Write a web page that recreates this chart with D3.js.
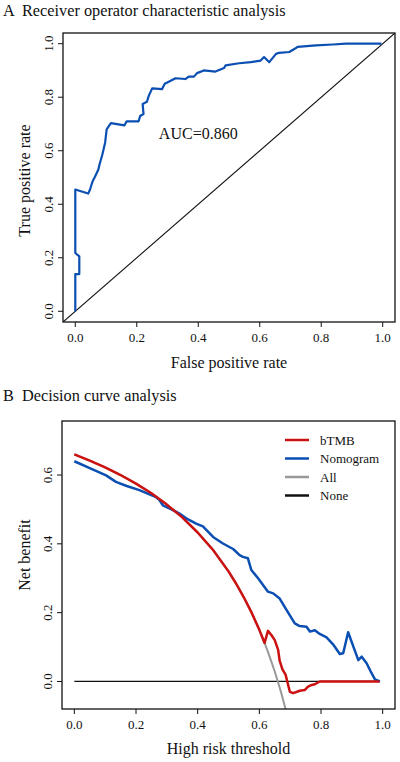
<!DOCTYPE html>
<html>
<head>
<meta charset="utf-8">
<script src="https://cdn.jsdelivr.net/npm/d3@7"></script>
<style>
  html, body { margin: 0; padding: 0; background: #fff; }
  svg { display: block; }
  text { font-family: "Liberation Serif", "Times New Roman", serif; fill: #111; }
</style>
</head>
<body>
<svg id="chart" width="400" height="762"></svg>
<script>
// ---------------- DATA ----------------
const xTicks = [0, 0.2, 0.4, 0.6, 0.8, 1.0];
const rocYTicks = [0, 0.2, 0.4, 0.6, 0.8, 1.0];
const dcaYTicks = [0, 0.2, 0.4, 0.6];

// ROC curve (false positive rate, true positive rate)
const rocFpr = [0, 0, 0.013, 0.013, 0, 0, 0.042, 0.048, 0.053, 0.058, 0.064, 0.075, 0.078, 0.088, 0.097, 0.102, 0.108, 0.116, 0.16, 0.167, 0.206, 0.211, 0.222, 0.219, 0.233, 0.239, 0.25, 0.282, 0.291, 0.304, 0.326, 0.358, 0.369, 0.386, 0.396, 0.418, 0.456, 0.484, 0.489, 0.533, 0.571, 0.603, 0.614, 0.631, 0.653, 0.663, 0.696, 0.718, 0.723, 0.783, 0.838, 0.881, 0.908, 0.996];
const rocTpr = [0, 0.139, 0.139, 0.205, 0.218, 0.455, 0.44, 0.455, 0.474, 0.49, 0.503, 0.53, 0.545, 0.586, 0.63, 0.68, 0.69, 0.703, 0.695, 0.71, 0.71, 0.73, 0.737, 0.775, 0.783, 0.805, 0.833, 0.83, 0.85, 0.858, 0.871, 0.868, 0.877, 0.877, 0.89, 0.9, 0.896, 0.909, 0.919, 0.927, 0.931, 0.937, 0.95, 0.931, 0.962, 0.966, 0.969, 0.984, 0.988, 0.994, 0.997, 1.0, 1.0, 1.0];
const aucLabel = "AUC=0.860";

// Decision curve: bTMB
const btmbX = [0, 0.05, 0.1, 0.15, 0.2, 0.25, 0.3, 0.35, 0.4, 0.45, 0.5, 0.525, 0.55, 0.575, 0.6, 0.617, 0.628, 0.639, 0.65, 0.661, 0.666, 0.675, 0.685, 0.699, 0.71, 0.731, 0.747, 0.758, 0.77, 0.78, 0.796, 0.99];
const btmbY = [0.66, 0.642, 0.622, 0.6, 0.575, 0.547, 0.514, 0.477, 0.433, 0.382, 0.32, 0.284, 0.244, 0.2, 0.15, 0.112, 0.147, 0.135, 0.12, 0.092, 0.06, 0.035, 0.02, -0.03, -0.034, -0.027, -0.025, -0.015, -0.01, -0.008, 0, 0];
// Decision curve: Nomogram
const nomoX = [0, 0.05, 0.103, 0.135, 0.17, 0.211, 0.265, 0.276, 0.287, 0.32, 0.341, 0.363, 0.395, 0.417, 0.45, 0.482, 0.515, 0.536, 0.547, 0.563, 0.574, 0.596, 0.628, 0.645, 0.666, 0.688, 0.715, 0.731, 0.753, 0.764, 0.78, 0.796, 0.818, 0.839, 0.861, 0.872, 0.888, 0.921, 0.932, 0.948, 0.964, 0.975, 0.991];
const nomoY = [0.64, 0.62, 0.599, 0.58, 0.568, 0.556, 0.536, 0.527, 0.512, 0.498, 0.488, 0.474, 0.459, 0.451, 0.42, 0.401, 0.385, 0.367, 0.362, 0.358, 0.324, 0.3, 0.261, 0.256, 0.241, 0.208, 0.169, 0.161, 0.159, 0.145, 0.149, 0.138, 0.128, 0.108, 0.08, 0.082, 0.143, 0.062, 0.072, 0.053, 0.024, 0.006, 0];
// Decision curve: treat All
const allX = [0, 0.05, 0.1, 0.15, 0.2, 0.25, 0.3, 0.35, 0.4, 0.45, 0.5, 0.525, 0.55, 0.575, 0.6, 0.617, 0.63, 0.65, 0.67, 0.69];
const allY = [0.66, 0.642, 0.622, 0.6, 0.575, 0.547, 0.514, 0.477, 0.433, 0.382, 0.32, 0.284, 0.244, 0.2, 0.15, 0.112, 0.081, 0.029, -0.03, -0.097];
// Decision curve: treat None
const noneX = [0, 0.99];
const noneY = [0, 0];

const legendNames = ["bTMB", "Nomogram", "All", "None"];
const legendColors = ["#cc1111", "#0b4fb3", "#999999", "#111111"];

// ---------------- DRAW ----------------
const svg = d3.select("#chart");
const FONT_TICK = 13;
const FONT_TITLE = 16.3;
const FONT_AXIS = 16;

function drawAxes(g, x, y, yticks, box) {
  g.append("rect").attr("x", box.l).attr("y", box.t)
    .attr("width", box.r - box.l).attr("height", box.b - box.t)
    .attr("fill", "none").attr("stroke", "#111").attr("stroke-width", 1.3);
  const xa = g.append("g");
  xTicks.forEach(v => {
    xa.append("line").attr("x1", x(v)).attr("x2", x(v)).attr("y1", box.b).attr("y2", box.b + 5)
      .attr("stroke", "#111").attr("stroke-width", 1);
    xa.append("text").attr("x", x(v)).attr("y", box.b + 20).attr("text-anchor", "middle")
      .attr("font-size", FONT_TICK).text(d3.format(".1f")(v));
  });
  const ya = g.append("g");
  yticks.forEach(v => {
    ya.append("line").attr("x1", box.l - 5).attr("x2", box.l).attr("y1", y(v)).attr("y2", y(v))
      .attr("stroke", "#111").attr("stroke-width", 1);
    ya.append("text").attr("transform", `translate(${box.l - 10},${y(v)}) rotate(-90)`)
      .attr("text-anchor", "middle").attr("font-size", FONT_TICK).text(d3.format(".1f")(v));
  });
}

// ---- Panel A ----
const boxA = { l: 63, r: 395, t: 33, b: 322 };
const xA = d3.scaleLinear().domain([-0.04, 1.04]).range([boxA.l, boxA.r]);
const yA = d3.scaleLinear().domain([-0.04, 1.04]).range([boxA.b, boxA.t]);

svg.append("text").attr("x", 3).attr("y", 16).attr("font-size", FONT_TITLE)
  .attr("xml:space", "preserve").text("A  Receiver operator characteristic analysis");

const gA = svg.append("g");
svg.append("clipPath").attr("id", "clipA").append("rect")
  .attr("x", boxA.l).attr("y", boxA.t).attr("width", boxA.r - boxA.l).attr("height", boxA.b - boxA.t);

gA.append("line").attr("clip-path", "url(#clipA)")
  .attr("x1", xA(-0.04)).attr("y1", yA(-0.04)).attr("x2", xA(1.04)).attr("y2", yA(1.04))
  .attr("stroke", "#111").attr("stroke-width", 1.1);

const rocLine = d3.line().x((d, i) => xA(rocFpr[i])).y((d, i) => yA(rocTpr[i]));
gA.append("path").datum(rocFpr).attr("d", rocLine)
  .attr("fill", "none").attr("stroke", "#0b4fb3").attr("stroke-width", 2.2).attr("stroke-linejoin", "round");

gA.append("text").attr("x", xA(0.40)).attr("y", yA(0.645)).attr("text-anchor", "middle")
  .attr("font-size", 16).text(aucLabel);

drawAxes(gA, xA, yA, rocYTicks, boxA);

svg.append("text").attr("x", (boxA.l + boxA.r) / 2).attr("y", 368).attr("text-anchor", "middle")
  .attr("font-size", FONT_AXIS).text("False positive rate");
svg.append("text").attr("transform", `translate(30,${(boxA.t + boxA.b) / 2 + 3}) rotate(-90)`)
  .attr("text-anchor", "middle").attr("font-size", FONT_AXIS).text("True positive rate");

// ---- Panel B ----
const boxB = { l: 62, r: 395, t: 421, b: 709 };
const xB = d3.scaleLinear().domain([-0.04, 1.04]).range([boxB.l, boxB.r]);
const yB = d3.scaleLinear().domain([-0.08, 0.757]).range([boxB.b, boxB.t]);

svg.append("text").attr("x", 3).attr("y", 401).attr("font-size", FONT_TITLE)
  .attr("xml:space", "preserve").text("B  Decision curve analysis");

const gB = svg.append("g");
svg.append("clipPath").attr("id", "clipB").append("rect")
  .attr("x", boxB.l).attr("y", boxB.t).attr("width", boxB.r - boxB.l).attr("height", boxB.b - boxB.t);

function dcaPath(xs, ys, color, w) {
  const ln = d3.line().x((d, i) => xB(xs[i])).y((d, i) => yB(ys[i]));
  gB.append("path").datum(xs).attr("d", ln).attr("clip-path", "url(#clipB)")
    .attr("fill", "none").attr("stroke", color).attr("stroke-width", w).attr("stroke-linejoin", "round");
}
dcaPath(noneX, noneY, legendColors[3], 1.3);
dcaPath(allX, allY, legendColors[2], 2);
dcaPath(nomoX, nomoY, legendColors[1], 2.5);
dcaPath(btmbX, btmbY, legendColors[0], 2.5);

drawAxes(gB, xB, yB, dcaYTicks, boxB);

const lg = svg.append("g");
legendNames.forEach((n, i) => {
  const yy = 440 + i * 18.5;
  lg.append("line").attr("x1", 285).attr("x2", 309).attr("y1", yy).attr("y2", yy)
    .attr("stroke", legendColors[i]).attr("stroke-width", 2.5);
  lg.append("text").attr("x", 320).attr("y", yy + 4.5).attr("font-size", 13).text(n);
});

svg.append("text").attr("x", (boxB.l + boxB.r) / 2).attr("y", 754).attr("text-anchor", "middle")
  .attr("font-size", FONT_AXIS).text("High risk threshold");
svg.append("text").attr("transform", `translate(30,${(boxB.t + boxB.b) / 2 - 10}) rotate(-90)`)
  .attr("text-anchor", "middle").attr("font-size", FONT_AXIS).text("Net benefit");
</script>
</body>
</html>
